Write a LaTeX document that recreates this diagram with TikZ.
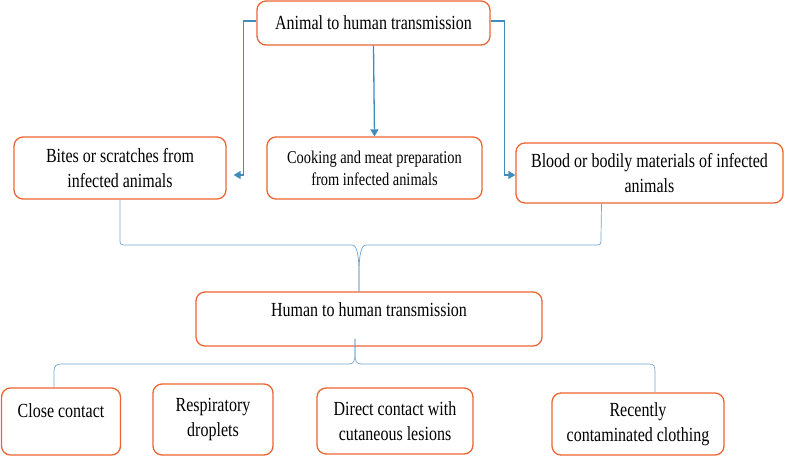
\documentclass[tikz,border=0pt]{standalone}
\usepackage{fontspec}
\setmainfont{Liberation Serif}[FakeStretch=0.8]
\usetikzlibrary{arrows.meta}
\definecolor{boxred}{RGB}{237,100,50}
\definecolor{arrblue}{RGB}{65,140,190}
\definecolor{braceblue}{RGB}{115,165,205}
\tikzset{
  box/.style={draw=boxred, line width=1.3pt, rounded corners=9pt, align=center,
    inner sep=0pt, font=\fontsize{20}{25}\selectfont},
  arr/.style={draw=arrblue, line width=1.3pt, -{Triangle[length=7pt,width=8pt]}},
  brace/.style={draw=braceblue, line width=0.7pt}
}
\begin{document}
\begin{tikzpicture}[x=1pt,y=-1pt]
        \useasboundingbox (0,0) rectangle (787,456);
        %boxes
        \node[box, minimum width=233pt, minimum height=44pt] (top) at (373.5,23) {Animal to human transmission};
        \node[box, minimum width=212pt, minimum height=62pt] (bites) at (120,168) {Bites or scratches from\\infected animals};
        \node[box, minimum width=215pt, minimum height=62pt, font=\fontsize{18}{22}\selectfont] (cook) at (374.5,168) {Cooking and meat preparation\\from infected animals};
        \node[box, minimum width=267pt, minimum height=60pt] (blood) at (649.5,173) {Blood or bodily materials of infected\\animals};
        \node[box, minimum width=346pt, minimum height=54pt, text depth=18pt] (human) at (369,319) {Human to human transmission};
        \node[box, minimum width=119pt, minimum height=67pt, text depth=22pt] (close) at (61,421.5) {Close contact};
        \node[box, minimum width=120pt, minimum height=71pt] (resp) at (213,419.5) {Respiratory\\droplets};
        \node[box, minimum width=156pt, minimum height=66pt] (direct) at (395,421) {Direct contact with\\cutaneous lesions};
        \node[box, minimum width=172pt, minimum height=62pt] (recent) at (638,424) {Recently\\contaminated clothing};
        %arrows from the top box
        \draw[arr] ([yshift=2pt]top.west) -- ++(-13,0) |- ([xshift=7pt,yshift=-7pt]bites.east);
        \draw[arr] (top.south) -- (cook.north);
        \draw[arr] ([yshift=2pt]top.east) -- ++(14,0) |- ([yshift=-2pt]blood.west);
        %brace into the human box
        \draw[brace] (bites.south) -- (120,238) .. controls (120,245) .. (127,245) -- (352,245)
          .. controls (357,245) and (359,255) .. (359,275) -- ([xshift=-10pt]human.north);
        \draw[brace] ([xshift=-48pt]blood.south) -- (601,238) .. controls (601,245) .. (594,245) -- (366,245)
          .. controls (361,245) and (359,255) .. (359,275) -- ([xshift=-10pt]human.north);
        %brace out of the human box
        \coordinate (hcusp) at ([xshift=-14pt,yshift=8pt]human.south);
        \draw[brace] (hcusp) -- (355,352) .. controls (355,362) and (356,364) .. (362,364) -- (649,364)
          .. controls (654,364) and (655,366) .. (655,372) -- ([xshift=17pt]recent.north);
        \draw[brace] (hcusp) -- (355,352) .. controls (355,362) and (354,364) .. (348,364) -- (61,364)
          .. controls (56,364) and (54,366) .. (54,372) -- ([xshift=-7pt]close.north);
    \end{tikzpicture}
\end{document}
